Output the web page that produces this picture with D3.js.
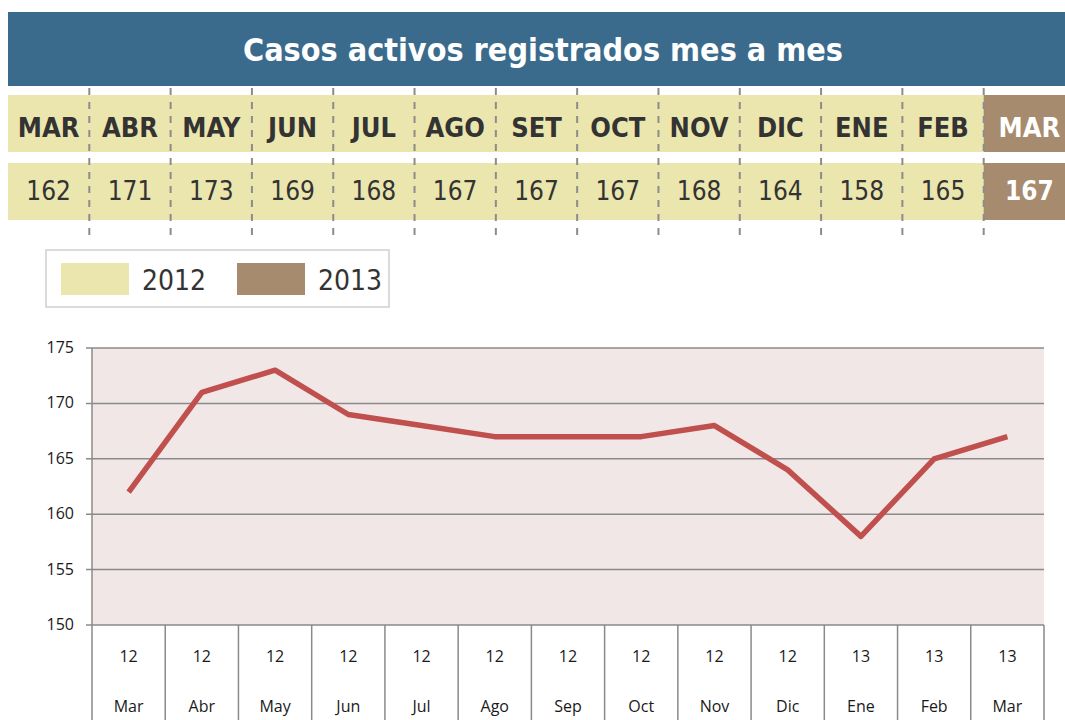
<!DOCTYPE html>
<html>
<head>
<meta charset="utf-8">
<style>
  body { margin: 0; background: #fff; }
  .head { font-family: "Liberation Sans Narrow", "DejaVu Sans", sans-serif; font-stretch: condensed; }
  .axis text { font-family: "Open Sans", sans-serif; font-size: 16px; fill: #1a1a1a; }
</style>
</head>
<body>
<svg id="chart"></svg>
<script src="https://d3js.org/d3.v7.min.js"></script>
<script>
var title = "Casos activos registrados mes a mes";
var months = ["MAR", "ABR", "MAY", "JUN", "JUL", "AGO", "SET", "OCT", "NOV", "DIC", "ENE", "FEB", "MAR"];
var years = ["2012", "2012", "2012", "2012", "2012", "2012", "2012", "2012", "2012", "2012", "2012", "2012", "2013"];
var values = [162, 171, 173, 169, 168, 167, 167, 167, 168, 164, 158, 165, 167];
var axisYears = ["12", "12", "12", "12", "12", "12", "12", "12", "12", "12", "13", "13", "13"];
var axisMonths = ["Mar", "Abr", "May", "Jun", "Jul", "Ago", "Sep", "Oct", "Nov", "Dic", "Ene", "Feb", "Mar"];
var yTicks = [150, 155, 160, 165, 170, 175];
var legendYears = ["2012", "2013"];

var width = 1065, height = 720;
var colors = { "2012": "#ebe6ad", "2013": "#a68b6e" };

var svg = d3.select('#chart').attr('width', width).attr('height', height);

// title bar
svg.append('rect').attr('x', 8).attr('y', 12).attr('width', width - 8).attr('height', 74).attr('fill', '#3b6b8c');
svg.append('text').attr('class', 'head')
  .attr('x', 543).attr('y', 61)
  .attr('text-anchor', 'middle')
  .attr('fill', '#fff').attr('font-size', 32).attr('font-weight', 'bold')
  .attr('textLength', 600).attr('lengthAdjust', 'spacingAndGlyphs')
  .text(title);

// month table
var idx = d3.range(months.length);
var col = d3.scaleBand().domain(idx).range([8, width]);
var rows = [{ y: 95, h: 57 }, { y: 163, h: 57 }];

rows.forEach(function(r) {
  svg.append('g').selectAll('rect').data(idx).join('rect')
    .attr('x', function(i) { return col(i); })
    .attr('y', r.y)
    .attr('width', col.bandwidth() + 0.5)
    .attr('height', r.h)
    .attr('fill', function(i) { return colors[years[i]]; });
});

function colMid(i) { return col(i) + col.bandwidth() / 2 + (i === idx.length - 1 ? 5 : 0); }

svg.append('g').selectAll('text').data(idx).join('text')
  .attr('class', 'head')
  .attr('x', colMid)
  .attr('y', 137)
  .attr('text-anchor', 'middle')
  .attr('font-size', 27).attr('font-weight', 'bold')
  .attr('fill', function(i) { return years[i] === '2013' ? '#fff' : '#333'; })
  .text(function(i) { return months[i]; });

svg.append('g').selectAll('text').data(idx).join('text')
  .attr('class', 'head')
  .attr('x', colMid)
  .attr('y', 200)
  .attr('text-anchor', 'middle')
  .attr('font-size', 26)
  .attr('font-weight', function(i) { return years[i] === '2013' ? 'bold' : 'normal'; })
  .attr('fill', function(i) { return years[i] === '2013' ? '#fff' : '#333'; })
  .text(function(i) { return values[i]; });

svg.append('g').selectAll('line').data(idx.slice(1)).join('line')
  .attr('x1', function(i) { return col(i); })
  .attr('x2', function(i) { return col(i); })
  .attr('y1', 88).attr('y2', 236)
  .attr('stroke', '#8c8c8c').attr('stroke-width', 2)
  .attr('stroke-dasharray', '7,7');

// legend
var lg = svg.append('g').attr('transform', 'translate(46,250)');
lg.append('rect').attr('width', 343).attr('height', 57).attr('fill', '#fff').attr('stroke', '#cfcfcf').attr('stroke-width', 1.5);
var item = lg.selectAll('g').data(legendYears).join('g')
  .attr('transform', function(d, i) { return 'translate(' + (15 + i * 176) + ',13)'; });
item.append('rect').attr('width', 68).attr('height', 32).attr('fill', function(d) { return colors[d]; });
item.append('text').attr('class', 'head')
  .attr('x', 81).attr('y', 27)
  .attr('font-size', 28).attr('fill', '#333')
  .text(function(d) { return d; });

// line chart
var pLeft = 92, pRight = 1044, pTop = 348, pBottom = 625;
var x = d3.scaleBand().domain(idx).range([pLeft, pRight]);
var y = d3.scaleLinear().domain([150, 175]).range([pBottom, pTop]);

svg.append('rect').attr('x', pLeft).attr('y', pTop).attr('width', pRight - pLeft).attr('height', pBottom - pTop).attr('fill', '#f2e7e7');

svg.append('g').selectAll('line').data(yTicks).join('line')
  .attr('x1', pLeft - 6).attr('x2', pRight)
  .attr('y1', function(d) { return y(d); }).attr('y2', function(d) { return y(d); })
  .attr('stroke', '#8a8a8a').attr('stroke-width', 1.5);

var yAxis = svg.append('g').attr('class', 'axis');
yAxis.selectAll('text').data(yTicks).join('text')
  .attr('x', 74).attr('y', function(d) { return y(d) + 5; })
  .attr('text-anchor', 'end')
  .text(function(d) { return d; });

// category cells under the plot
var bounds = idx.map(function(i) { return x(i); }).concat([pRight]);
svg.append('g').selectAll('line').data(bounds).join('line')
  .attr('x1', function(d) { return d; }).attr('x2', function(d) { return d; })
  .attr('y1', function(d, i) { return i === 0 ? pTop : pBottom; }).attr('y2', height)
  .attr('stroke', '#8a8a8a').attr('stroke-width', 1.5);

var xAxis = svg.append('g').attr('class', 'axis');
xAxis.selectAll('text.yr').data(idx).join('text').attr('class', 'yr')
  .attr('x', function(i) { return x(i) + x.bandwidth() / 2; })
  .attr('y', 662).attr('text-anchor', 'middle')
  .text(function(i) { return axisYears[i]; });
xAxis.selectAll('text.mo').data(idx).join('text').attr('class', 'mo')
  .attr('x', function(i) { return x(i) + x.bandwidth() / 2; })
  .attr('y', 712).attr('text-anchor', 'middle')
  .text(function(i) { return axisMonths[i]; });

var line = d3.line()
  .x(function(i) { return x(i) + x.bandwidth() / 2; })
  .y(function(i) { return y(values[i]); });

svg.append('path').datum(idx)
  .attr('fill', 'none')
  .attr('stroke', '#c0504d')
  .attr('stroke-width', 5.5)
  .attr('stroke-linejoin', 'round')
  .attr('d', line);
</script>
</body>
</html>
